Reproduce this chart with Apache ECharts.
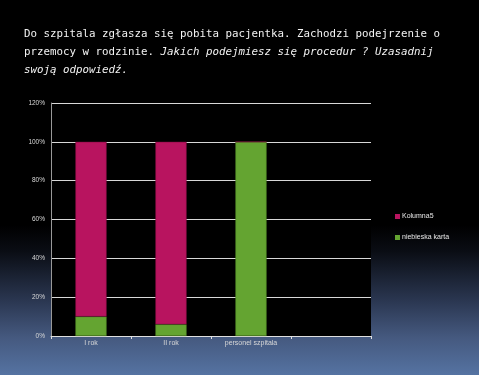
<!DOCTYPE html>
<html><head><meta charset="utf-8">
<script src="https://cdn.jsdelivr.net/npm/echarts@6/dist/echarts.min.js"></script>
<style>html,body{margin:0;padding:0;}#c{width:479px;height:375px;background:linear-gradient(to bottom,#000 0%,#000 60%,#0a0d14 67%,#2a3650 80%,#45597f 90%,#5573a2 100%);}</style>
</head><body><div id="c"></div>
<script>
const categories = ['I rok', 'II rok', 'personel szpitala', ''];
const kolumna5 = [90, 94, 0, null];
const niebieskaKarta = [10, 6, 100, null];
const yTicks = [0, 20, 40, 60, 80, 100, 120];

const chart = echarts.init(document.getElementById('c'), null, {renderer: 'canvas'});
chart.setOption({
  backgroundColor: 'transparent',
  title: {
    left: 24, top: 25, padding: 0,
    text: '{n|Do szpitala zgłasza się pobita pacjentka. Zachodzi podejrzenie o}\n{n|przemocy w rodzinie. }{i|Jakich podejmiesz się procedur ? Uzasadnij}\n{i|swoją odpowiedź.}',
    textStyle: {
      fontWeight: 'normal',
      rich: {
        n: {fontFamily: 'DejaVu Sans Mono', fontWeight: 'normal', fontSize: 10.8, color: '#f2f2f2', lineHeight: 18},
        i: {fontFamily: 'DejaVu Sans Mono', fontWeight: 'normal', fontStyle: 'italic', fontSize: 10.8, color: '#f2f2f2', lineHeight: 18}
      }
    }
  },
  legend: {
    orient: 'vertical', left: 390, top: 208,
    data: ['Kolumna5', 'niebieska karta'],
    itemWidth: 5, itemHeight: 5, itemGap: 14,
    icon: 'rect',
    itemStyle: {borderWidth: 0},
    textStyle: {color: '#e8e8e8', fontSize: 7, fontFamily: 'Liberation Sans', padding: [0, 0, 0, -3]}
  },
  grid: {left: 51, right: 108, top: 103, bottom: 39, backgroundColor: '#000', show: true, borderWidth: 0},
  xAxis: {
    type: 'category', data: categories,
    axisLine: {lineStyle: {color: '#e0e0e0', width: 1}},
    axisTick: {show: true, inside: false, length: 3, lineStyle: {color: '#e0e0e0'}},
    axisLabel: {color: '#d8d8d8', fontSize: 7, fontFamily: 'Liberation Sans', margin: 4}
  },
  yAxis: {
    type: 'value', min: 0, max: 120, interval: 20,
    axisLine: {show: true, lineStyle: {color: '#999', width: 1}},
    axisTick: {show: false},
    axisLabel: {color: '#d8d8d8', fontSize: 6.5, fontFamily: 'Liberation Sans', margin: 6,
      formatter: v => yTicks.includes(v) ? v + '%' : ''},
    splitLine: {lineStyle: {color: '#d8d8d8', width: 1}}
  },
  series: [
    {name: 'niebieska karta', type: 'bar', stack: 's', data: niebieskaKarta, barWidth: '39%',
      itemStyle: {color: '#64a431', borderColor: '#4a7f22', borderWidth: 0.5}},
    {name: 'Kolumna5', type: 'bar', stack: 's', data: kolumna5, barWidth: '39%',
      itemStyle: {color: '#b8145f', borderColor: '#7e0d40', borderWidth: 0.5}}
  ],
  animation: false
});
</script></body></html>
